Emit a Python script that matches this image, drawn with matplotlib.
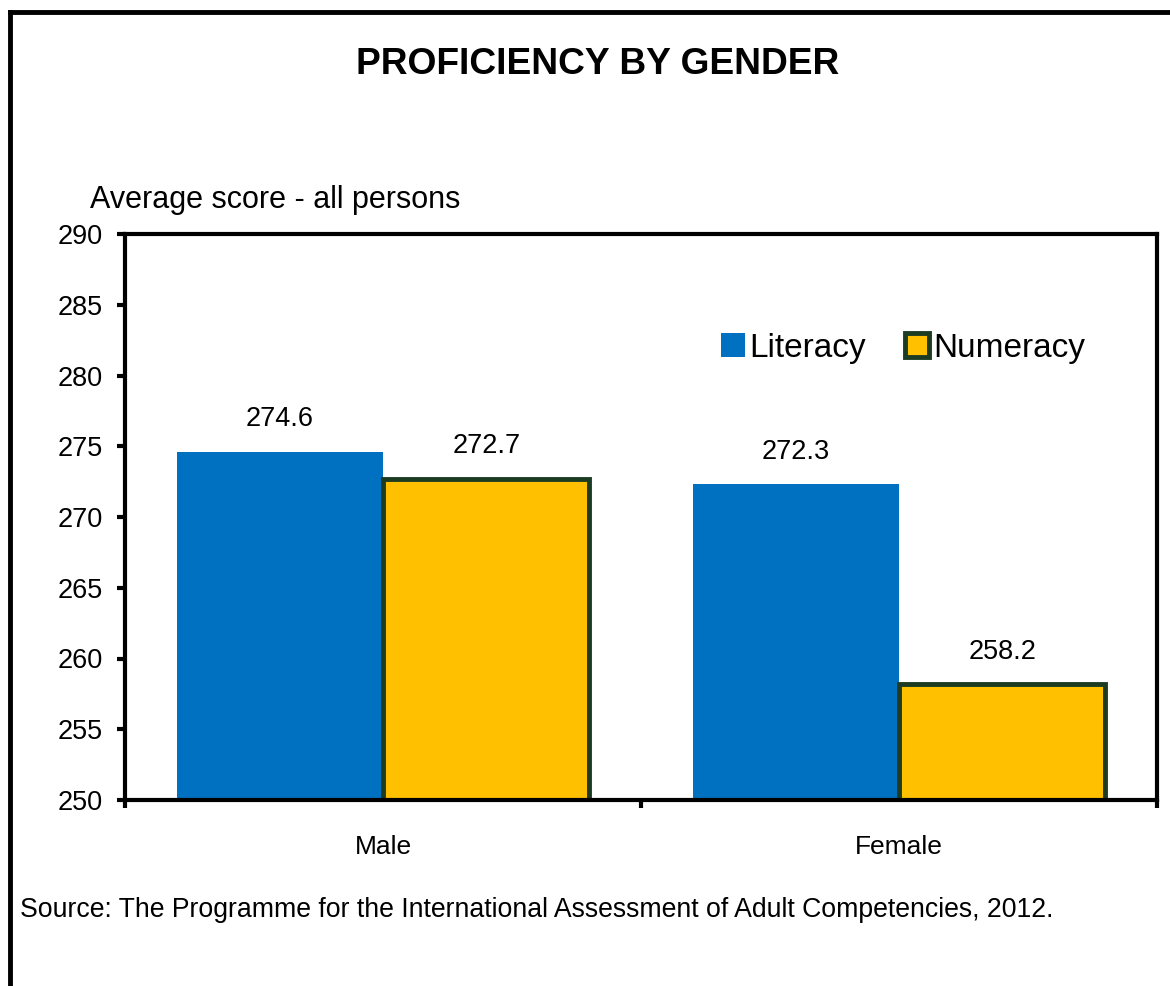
import matplotlib
matplotlib.use("Agg")
import matplotlib.pyplot as plt
from matplotlib.lines import Line2D
import numpy as np

plt.rcParams['font.family'] = ['Liberation Sans', 'DejaVu Sans']

categories = ["Male", "Female"]
series_names = ["Literacy", "Numeracy"]
literacy = [274.6, 272.3]
numeracy = [272.7, 258.2]
yticks = [250, 255, 260, 265, 270, 275, 280, 285, 290]

fig = plt.figure(figsize=(11.7, 9.86), dpi=100)
ax = fig.add_axes([125/1170, 1-800/986, (1157-125)/1170, (800-234)/986])

x = np.arange(len(categories))
w = 0.4
b1 = ax.bar(x - w/2, [v - 250 for v in literacy], w, bottom=250, color="#0070C0",
            edgecolor="none", label=series_names[0], zorder=2)
b2 = ax.bar(x + w/2, [v - 250 for v in numeracy], w, bottom=250, color="#FFC000",
            edgecolor="#1B3B22", linewidth=3.5, label=series_names[1], zorder=2)

for xs, vals in ((x - w/2, literacy), (x + w/2, numeracy)):
    for xi, v in zip(xs, vals):
        ax.annotate(f"{v:.1f}", (xi, v), xytext=(0, 14), textcoords="offset points",
                    ha="center", va="bottom", fontsize=19.5)

ax.set_ylim(250, 290)
ax.set_xlim(-0.5, 1.5)
ax.set_yticks(yticks)
ax.set_yticklabels([str(t) for t in yticks], fontsize=19.5)
ax.set_xticks(x)
ax.set_xticklabels(categories, fontsize=19)
ax.set_xticks([-0.5, 0.5, 1.5], minor=True)
ax.tick_params(axis='x', which='major', length=0, pad=25)
ax.tick_params(axis='x', which='minor', length=6, width=3, direction='out')
ax.tick_params(axis='y', length=6, width=3, direction='out', pad=10)
for s in ax.spines.values():
    s.set_linewidth(3)
    s.set_color("black")

ax.legend(loc="center right", bbox_to_anchor=(0.930, 0.798), frameon=False, fontsize=24,
          ncol=2, handlelength=0.72, handleheight=0.7, handletextpad=0.1,
          columnspacing=1.2, borderaxespad=0, borderpad=0)

fig.text(598/1170, 1-65/986, "PROFICIENCY BY GENDER", ha="center", va="center",
         fontsize=26.7, fontweight="bold")
fig.text(90/1170, 1-200/986, "Average score - all persons", ha="left", va="center",
         fontsize=22)
fig.text(20/1170, 1-910/986, "Source: The Programme for the International Assessment of Adult Competencies, 2012.",
         ha="left", va="center", fontsize=19.2)

# figure frame (left and top)
fig.add_artist(Line2D([10/1170, 10/1170], [0, 1-12/986], color="black", linewidth=3.5,
                      transform=fig.transFigure, solid_capstyle="projecting"))
fig.add_artist(Line2D([10/1170, 1], [1-12/986, 1-12/986], color="black", linewidth=3.5,
                      transform=fig.transFigure, solid_capstyle="projecting"))

fig.savefig("out.png", dpi=100)
